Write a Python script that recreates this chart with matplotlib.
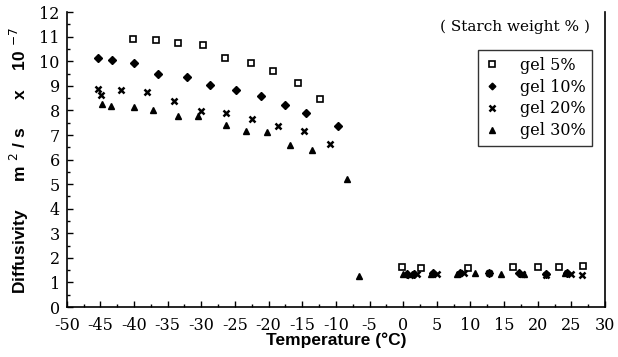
import matplotlib
matplotlib.use("Agg")
import matplotlib.pyplot as plt
from matplotlib.ticker import MultipleLocator

plt.rcParams['axes.unicode_minus'] = False

# gel 5%
g5_x = [-40.2, -36.7, -33.4, -29.8, -26.5, -22.6, -19.3, -15.7, -12.3,
        -0.2, 2.7, 9.6, 16.3, 20.0, 23.2, 26.8]
g5_y = [10.92, 10.85, 10.75, 10.65, 10.15, 9.95, 9.6, 9.13, 8.48,
        1.62, 1.57, 1.6, 1.62, 1.62, 1.62, 1.65]
# gel 10%
g10_x = [-45.3, -43.3, -40.0, -36.4, -32.2, -28.7, -24.9, -21.2, -17.6, -14.5, -9.7,
         0.6, 1.6, 4.5, 8.4, 12.8, 17.2, 21.3, 24.4]
g10_y = [10.13, 10.04, 9.95, 9.5, 9.35, 9.02, 8.82, 8.58, 8.22, 7.9, 7.36,
         1.35, 1.35, 1.38, 1.4, 1.38, 1.38, 1.35, 1.4]
# gel 20%
g20_x = [-45.3, -44.9, -41.9, -38.1, -34.0, -30.1, -26.4, -22.5, -18.6, -14.8, -10.9,
         1.0, 2.1, 5.0, 9.0, 12.8, 17.6, 21.2, 24.9, 26.6]
g20_y = [8.86, 8.62, 8.82, 8.73, 8.37, 7.98, 7.9, 7.67, 7.36, 7.17, 6.65,
         1.32, 1.35, 1.35, 1.38, 1.38, 1.35, 1.32, 1.35, 1.32]
# gel 30%
g30_x = [-44.7, -43.4, -40.0, -37.2, -33.5, -30.5, -26.4, -23.3, -20.3, -16.8, -13.6, -8.4, -6.6,
         0.0, 1.3, 4.2, 8.0, 10.7, 14.5, 17.9, 24.0]
g30_y = [8.25, 8.18, 8.12, 8.01, 7.78, 7.78, 7.39, 7.15, 7.13, 6.6, 6.4, 5.2, 1.28,
         1.33, 1.35, 1.35, 1.33, 1.38, 1.36, 1.35, 1.38]

x_ticks = list(range(-50, 31, 5))
y_ticks = list(range(0, 13))

fig = plt.figure(figsize=(6.18, 3.57), dpi=100)
ax = fig.add_axes([0.108, 0.14, 0.871, 0.826])

ax.plot(g5_x, g5_y, ls='none', marker='s', ms=4.3, mfc='white', mec='black', mew=1.2, label='gel 5%')
ax.plot(g10_x, g10_y, ls='none', marker='D', ms=4.0, mfc='black', mec='black', label='gel 10%')
ax.plot(g20_x, g20_y, ls='none', marker='x', ms=4.8, mec='black', mew=1.8, label='gel 20%')
ax.plot(g30_x, g30_y, ls='none', marker='^', ms=4.8, mfc='black', mec='black', label='gel 30%')

ax.set_xlim(-50, 30)
ax.set_ylim(0, 12)
ax.set_xticks(x_ticks)
ax.set_yticks(y_ticks)
ax.xaxis.set_minor_locator(MultipleLocator(2.5))
ax.yaxis.set_minor_locator(MultipleLocator(0.5))
ax.tick_params(which='both', direction='in', top=False, right=False, width=1)
ax.tick_params(which='major', length=4, labelsize=11.5)
ax.tick_params(axis='x', which='major', pad=7)
ax.tick_params(axis='y', which='major', pad=5)
ax.tick_params(which='minor', length=2)
for lab in ax.get_xticklabels() + ax.get_yticklabels():
    lab.set_family('DejaVu Serif')
ax.spines['top'].set_visible(False)
for s in ['left', 'bottom', 'right']:
    ax.spines[s].set_linewidth(1.2)

ax.set_xlabel('Temperature (°C)', fontsize=12.5, fontweight='bold', family='Liberation Sans', labelpad=-1)
fig.text(0.032, 0.55, 'Diffusivity      m $^{2}$ / s      x    10 $^{-7}$', rotation=90,
         ha='center', va='center', fontsize=12.5, fontweight='bold', family='Liberation Sans')

ax.text(0.972, 0.975, '( Starch weight % )', transform=ax.transAxes, ha='right', va='top',
        fontsize=11, family='DejaVu Serif')

leg = ax.legend(loc='upper right', bbox_to_anchor=(0.99, 0.897), prop={'family': 'DejaVu Serif', 'size': 11.5},
                frameon=True, fancybox=False, edgecolor='black', handletextpad=1.2, borderpad=0.4,
                labelspacing=0.3, handlelength=1.0, markerscale=0.85)
leg.get_frame().set_linewidth(1.0)

fig.savefig('out.png', dpi=100)
